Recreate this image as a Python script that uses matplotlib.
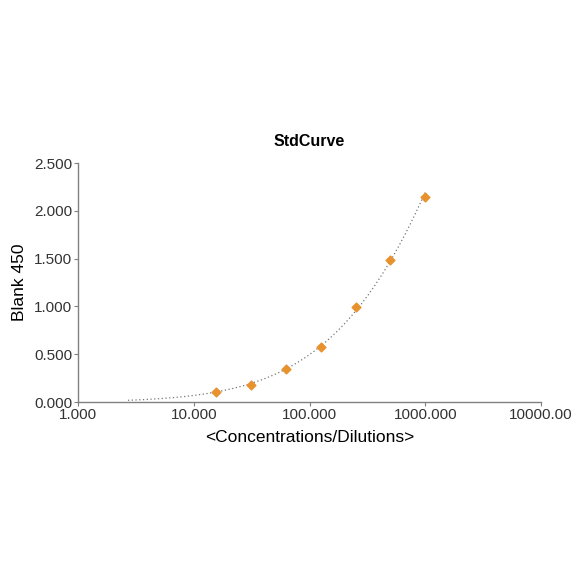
import numpy as np
import matplotlib
matplotlib.use("Agg")
import matplotlib.pyplot as plt

plt.rcParams['font.family'] = ['Liberation Sans', 'DejaVu Sans']

# standard points
conc = [15.625, 31.25, 62.5, 125.0, 250.0, 500.0, 1000.0]
od450 = [0.11, 0.18, 0.35, 0.58, 0.99, 1.49, 2.15]

x_ticks = [1, 10, 100, 1000, 10000]
x_tick_labels = ["1.000", "10.000", "100.000", "1000.000", "10000.00"]
y_ticks = [0.0, 0.5, 1.0, 1.5, 2.0, 2.5]
y_tick_labels = ["0.000", "0.500", "1.000", "1.500", "2.000", "2.500"]

# fitted curve through the standards (quadratic in log-log space)
coef = np.polyfit(np.log10(conc), np.log10(od450), 2)
xs = np.logspace(np.log10(2.7), 3, 200)
ys = 10 ** np.polyval(coef, np.log10(xs))

fig = plt.figure(figsize=(5.84, 5.84), dpi=100)
ax = fig.add_axes([0.1336, 0.3116, 0.7928, 0.4092])

ax.plot(xs, ys, linestyle=(0, (1, 2)), color="#777777", linewidth=0.9)
ax.scatter(conc, od450, marker="D", s=20, color="#E8922E", zorder=3)

ax.set_xscale("log")
ax.set_xlim(1, 10000)
ax.set_ylim(0, 2.5)
ax.set_xticks(x_ticks)
ax.set_xticklabels(x_tick_labels)
ax.minorticks_off()
ax.set_yticks(y_ticks)
ax.set_yticklabels(y_tick_labels)

for s in ["top", "right"]:
    ax.spines[s].set_visible(False)
for s in ["left", "bottom"]:
    ax.spines[s].set_color("#808080")
    ax.spines[s].set_linewidth(1.0)
ax.tick_params(length=3, color="#808080", labelsize=11, labelcolor="#333333", pad=1)

ax.set_title("StdCurve", fontsize=11.5, fontweight="bold", pad=12)
ax.set_xlabel("<Concentrations/Dilutions>", fontsize=12.5, labelpad=6)
ax.set_ylabel("Blank 450", fontsize=12.5, labelpad=5)

fig.savefig("out.png", dpi=100, facecolor="white")
